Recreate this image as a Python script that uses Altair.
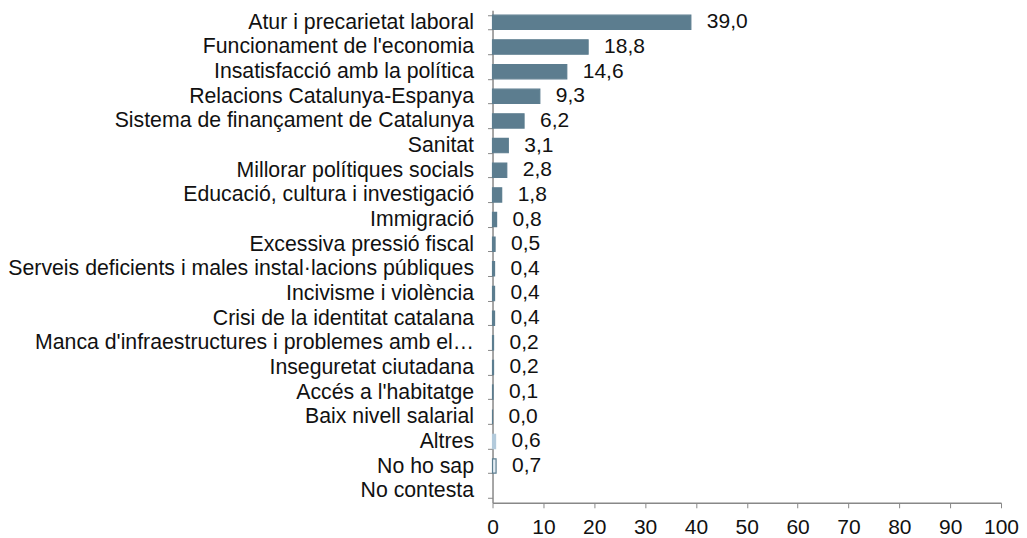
import altair as alt
import pandas as pd

categories = [
    "Atur i precarietat laboral",
    "Funcionament de l'economia",
    "Insatisfacció amb la política",
    "Relacions Catalunya-Espanya",
    "Sistema de finançament de Catalunya",
    "Sanitat",
    "Millorar polítiques socials",
    "Educació, cultura i investigació",
    "Immigració",
    "Excessiva pressió fiscal",
    "Serveis deficients i males instal·lacions públiques",
    "Incivisme i violència",
    "Crisi de la identitat catalana",
    "Manca d'infraestructures i problemes amb el…",
    "Inseguretat ciutadana",
    "Accés a l'habitatge",
    "Baix nivell salarial",
    "Altres",
    "No ho sap",
    "No contesta",
]
values = [39.0, 18.8, 14.6, 9.3, 6.2, 3.1, 2.8, 1.8, 0.8, 0.5, 0.4, 0.4, 0.4,
          0.2, 0.2, 0.1, 0.0, 0.6, 0.7, None]
groups = ["main"] * 17 + ["altres", "nsap", "nc"]

df = pd.DataFrame({"cat": categories, "val": values, "grp": groups})

FONT = "Liberation Sans"
FS = 21

base = alt.Chart(df).encode(
    y=alt.Y("cat:N", sort=categories, title=None,
            scale=alt.Scale(paddingInner=0.42, paddingOuter=0.2),
            axis=alt.Axis(tickBand="extent", labelFontSize=21.3, labelColor="#111",
                          labelFont=FONT, labelPadding=14, tickSize=5,
                          domainColor="#888", tickColor="#888", labelLimit=600)),
)

bars = base.mark_bar(strokeWidth=1.2).encode(
    x=alt.X("val:Q", title=None, scale=alt.Scale(domain=[0, 100], nice=False),
            axis=alt.Axis(values=list(range(0, 101, 10)), labelFontSize=FS,
                          labelFont=FONT, labelColor="#111",
                          labelFlush=False, labelOverlap=False,
                          domainColor="#888", tickColor="#888", tickSize=5,
                          labelPadding=9, grid=False)),
    color=alt.Color("grp:N", legend=None,
                    scale=alt.Scale(domain=["main", "altres", "nsap", "nc"],
                                    range=["#5c7d8f", "#b3cadb", "#e4edf4", "#5c7d8f"])),
    stroke=alt.Stroke("grp:N", legend=None,
                      scale=alt.Scale(domain=["main", "altres", "nsap", "nc"],
                                      range=["#5c7d8f", "#b3cadb", "#5c7d8f", "#5c7d8f"])),
)

labels = base.transform_filter("isValid(datum.val)").transform_calculate(
    lbl="replace(format(datum.val, '.1f'), '.', ',')"
).mark_text(align="left", dx=16, fontSize=FS, font=FONT, color="#111").encode(
    x="val:Q",
    text="lbl:N",
)

chart = (bars + labels).properties(
    width=509, height=493,
    padding={"left": 485, "top": 2, "right": 18, "bottom": 34},
    autosize=alt.AutoSizeParams(type="none"),
).configure_view(stroke=None).configure_axis(domainWidth=1.5)

chart.save("out.html", embed_options={"renderer": "svg", "actions": False})
